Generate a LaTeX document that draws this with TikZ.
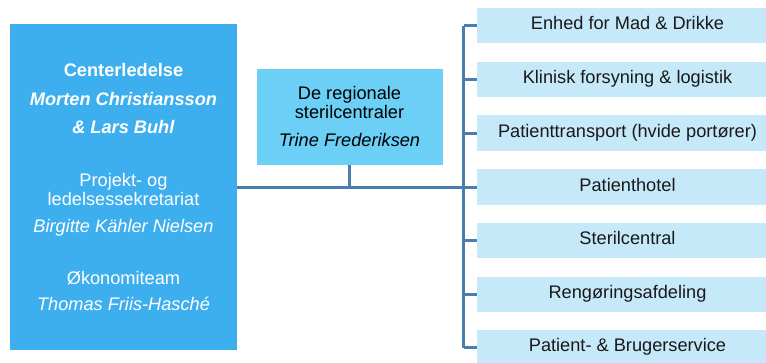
\documentclass[tikz,border=0pt]{standalone}
\usepackage{fontspec}
\setmainfont{Liberation Sans}
\usetikzlibrary{positioning}
\definecolor{lederblaa}{HTML}{3EAFEE}
\definecolor{midtblaa}{HTML}{6BCFF6}
\definecolor{lysblaa}{HTML}{C6E9FA}
\definecolor{linjeblaa}{HTML}{4A7DB0}

\begin{document}
\begin{tikzpicture}[x=1pt, y=-1pt,
		ledelse/.style={fill=lederblaa, text=white, minimum width=227pt, minimum height=326pt, align=center, inner sep=0pt, font=\fontsize{18.2}{18.5}\selectfont},
		sterilbox/.style={fill=midtblaa, text=black, minimum width=186pt, minimum height=96pt, align=center, inner sep=0pt, font=\fontsize{18.2}{19}\selectfont},
		enhed/.style={fill=lysblaa, text=black!90, minimum width=301pt, minimum height=35.5pt, inner sep=0pt, text height=13pt, text depth=5pt, font=\fontsize{18.2}{20}\selectfont},
		forbind/.style={draw=linjeblaa, line width=3pt}]
			%%%%% START %%%%%
			\useasboundingbox (0, 0) rectangle (766, 362);
			
			\node[ledelse] (leder) at (123.5, 187) {\textbf{Centerledelse}\\[10.5pt]
				\textbf{\textit{Morten Christiansson}}\\[9.5pt]
				\textbf{\textit{\& Lars Buhl}}\\[34.5pt]
				Projekt- og\\
				ledelsessekretariat\\[8.5pt]
				\textit{Birgitte Kähler Nielsen}\\[33.5pt]
				Økonomiteam\\[7.5pt]
				\textit{Thomas Friis-Hasché}};
			
			\node[sterilbox] (steril) at (349.5, 116.5) {De regionale\\
				sterilcentraler\\[9pt]
				\textit{Trine Frederiksen}};
			
			\node[enhed] (e1) at (627.5, 25.5) {Enhed for Mad \& Drikke};
			\node[enhed] (e2) at (627.5, 79.5) {Klinisk forsyning \& logistik};
			\node[enhed] (e3) at (627.5, 133) {Patienttransport (hvide portører)};
			\node[enhed] (e4) at (627.5, 187) {Patienthotel};
			\node[enhed] (e5) at (627.5, 240.5) {Sterilcentral};
			\node[enhed] (e6) at (627.5, 294.5) {Rengøringsafdeling};
			\node[enhed] (e7) at (627.5, 347.5) {Patient- \& Brugerservice};
			
			\coordinate (bus) at (463.5, 187);
			
			\draw[forbind] (leder.east) -- (bus);
			\draw[forbind] (steril.south) -- (steril.south |- bus);
			\draw[forbind] (bus |- e1) -- (bus |- e7);
			\foreach \i in {1,...,7}
				\draw[forbind] (bus |- e\i) -- (e\i.west);
			
			%%%%% END %%%%%
		\end{tikzpicture}
\end{document}
